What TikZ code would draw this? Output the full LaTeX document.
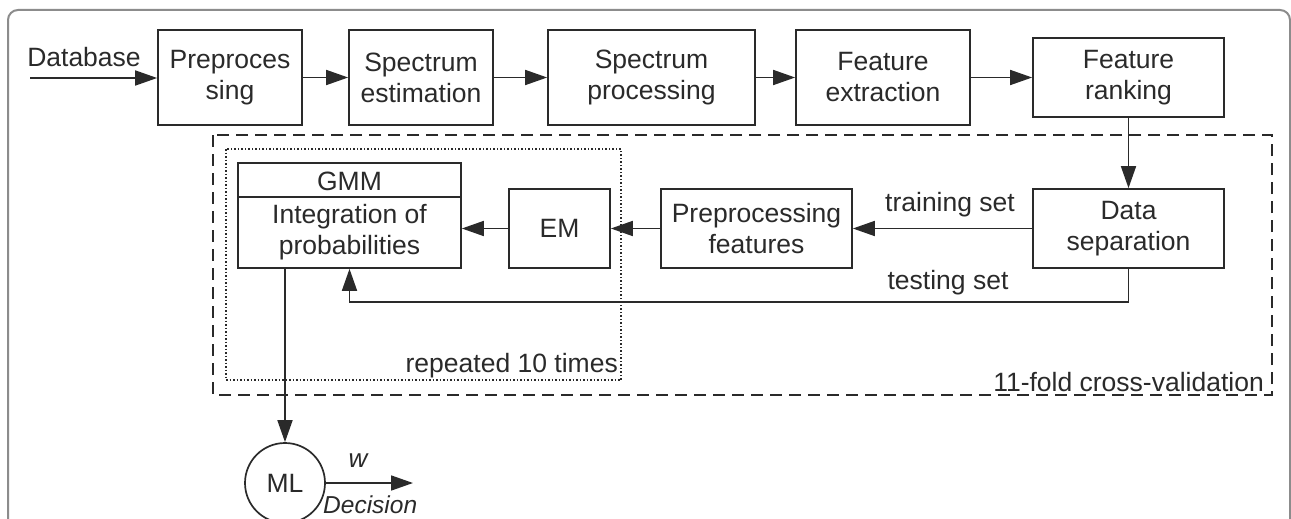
\documentclass[tikz,border=0pt]{standalone}
\usepackage{fontspec}
\setmainfont{Liberation Sans}
\usetikzlibrary{arrows.meta,calc}
\definecolor{ink}{HTML}{2A2A2A}
\definecolor{frame}{HTML}{8C8C8C}
\tikzset{
  box/.style={draw=ink, line width=1.7pt, rectangle, inner sep=0pt, align=center, text=ink},
  lbl/.style={text=ink, inner sep=0pt, align=center},
  arr/.style={draw=ink, line width=1.7pt, -{Triangle[length=22pt,width=15pt]}},
  ln/.style={draw=ink, line width=1.7pt},
}
\begin{document}
\begin{tikzpicture}[x=1pt,y=-1pt,font=\fontsize{26.5}{31}\selectfont]
\clip (0,0) rectangle (1291,519);
\fill[white] (0,0) rectangle (1291,519);
% outer frame
\draw[frame, line width=2pt, rounded corners=10pt] (8,545) -- (8,10) -- (1290,10) -- (1290,545);
% containers
\draw[ink, line width=1.6pt, dash pattern=on 12pt off 7pt] (213,135) rectangle (1272,395);
\draw[ink, line width=1.5pt, dotted] (226,149) rectangle (621,380);
\node[lbl, anchor=south east] (rep) at (618,378) {repeated 10 times};
\node[lbl, anchor=south east] (fold) at (1264,392) {11-fold cross-validation};
% top row
\node[lbl] (db) at (84,57) {Database};
\coordinate (dbin) at (30,78);
\node[box, minimum width=144pt, minimum height=95pt] (pre) at (230,77.5) {Preproces\\sing};
\node[box, minimum width=144pt, minimum height=95pt] (se) at (421,77.5) {Spectrum\\estimation};
\node[box, minimum width=207pt, minimum height=95pt] (sp) at (651.5,77.5) {Spectrum\\processing};
\node[box, minimum width=174pt, minimum height=95pt] (fe) at (883,77.5) {Feature\\extraction};
\node[box, minimum width=191pt, minimum height=79pt] (fr) at (1128.5,77.5) {Feature\\ranking};
% second row
\node[box, minimum width=191pt, minimum height=79pt] (ds) at (1128.5,228.5) {Data\\separation};
\node[box, minimum width=191pt, minimum height=79pt] (pf) at (756.5,228.5) {Preprocessing\\features};
\node[box, minimum width=101pt, minimum height=79pt] (em) at (559.5,228.5) {EM};
\node[box, minimum width=223pt, minimum height=105pt] (gmm) at (349.5,215.5) {};
\draw[ln] ($(gmm.north west)+(0,35)$) -- ($(gmm.north east)+(0,35)$);
\node[lbl] (gmmt) at (349.5,181) {GMM};
\node[lbl] (integ) at (349.5,232) {Integration of\\probabilities};
\node[lbl] (tr) at (950,205) {training set};
\node[lbl] (te) at (948,283) {testing set};
% ML
\node[draw=ink, line width=1.7pt, circle, minimum size=80pt, inner sep=0pt, text=ink] (ml) at (285,483) {ML};
\coordinate (out) at (413,483);
\node[lbl, font=\fontsize{26}{31}\selectfont\itshape] (w) at (358,461) {w};
\node[lbl, font=\fontsize{24.5}{29}\selectfont\itshape, anchor=west] (dec) at (323,505) {Decision};
% connectors
\draw[arr] (dbin) -- (dbin -| pre.west);
\draw[arr] (pre.east) -- (se.west);
\draw[arr] (se.east) -- (sp.west);
\draw[arr] (sp.east) -- (fe.west);
\draw[arr] (fe.east) -- (fr.west);
\draw[arr] (fr.south) -- (ds.north);
\draw[arr] (ds.west) -- (pf.east);
\draw[arr] (pf.west) -- (em.west -| em.east);
\draw[arr] (em.west) -- (em.west -| gmm.east);
\draw[arr] (ds.south) -- ++(0,33) -| (gmm.south);
\draw[arr] (ml.north |- gmm.south) -- (ml.north);
\draw[arr] (ml.east) -- (out);
\end{tikzpicture}
\end{document}
